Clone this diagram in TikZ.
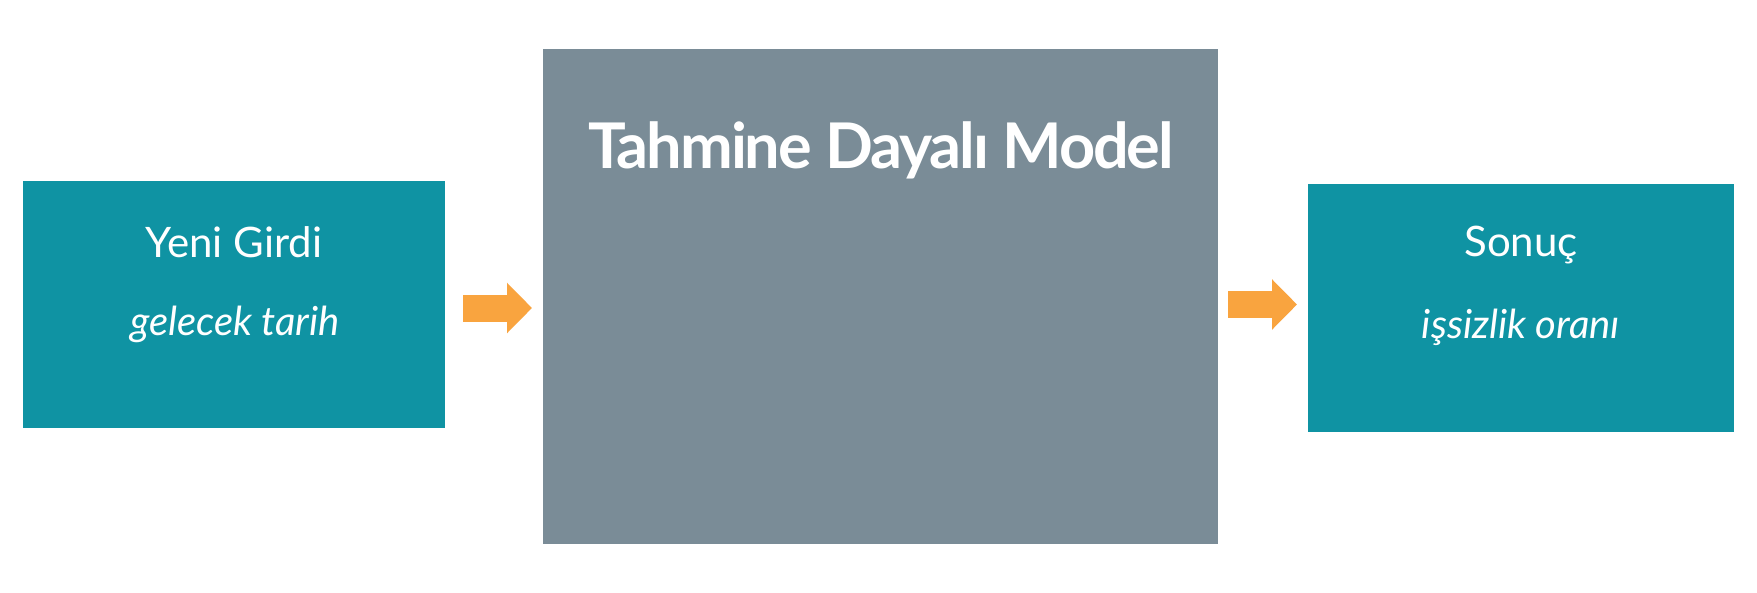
\documentclass[tikz,border=0pt]{standalone}
\usepackage{fontspec}
\setmainfont{Lato}
\usetikzlibrary{arrows.meta,calc}
\definecolor{tealbox}{HTML}{0F93A3}
\definecolor{graybox}{HTML}{7A8C97}
\definecolor{orangearr}{HTML}{F9A43F}
\tikzset{
  tealrect/.style={fill=tealbox, draw=none, minimum width=422pt, minimum height=247pt, inner sep=0pt, outer sep=0pt},
  grayrect/.style={fill=graybox, draw=none, minimum width=675pt, minimum height=495pt, inner sep=0pt, outer sep=0pt},
  maintxt/.style={text=white, font=\fontsize{42pt}{48pt}\selectfont, anchor=base, inner sep=0pt},
  subtxt/.style={text=white, font=\fontsize{40pt}{48pt}\selectfont\itshape, anchor=base, inner sep=0pt},
  titletxt/.style={text=white, font=\fontsize{63pt}{72pt}\selectfont\bfseries\addfontfeature{LetterSpace=-3.3}, anchor=base, inner sep=0pt},
  fatarrow/.style={draw=orangearr, line width=27pt, -{Triangle[length=25pt, width=49pt, fill=orangearr]}}
}
\begin{document}
\begin{tikzpicture}[x=1pt, y=-1pt]
  \fill[white] (0,0) rectangle (1757,592);
  \useasboundingbox (0,0) rectangle (1757,592);
  \node[tealrect] (L) at (234,304.5) {};
  \node[grayrect] (M) at (880.5,296.5) {};
  \node[tealrect, minimum width=426pt, minimum height=248pt] (R) at (1521,308) {};
  \node[maintxt] (l1) at (234,257) {Yeni Girdi};
  \node[subtxt] (l2) at (235,335) {gelecek tarih};
  \node[titletxt] (mt) at (881,168) {Tahmine Dayalı Model};
  \node[maintxt] (r1) at (1521,256) {Sonuç};
  \node[subtxt] (r2) at (1521,338) {işsizlik oranı};
  \coordinate (a1s) at ($(L.east)+(18,3.5)$);
  \coordinate (a1e) at ($(M.west |- a1s)+(-11,0)$);
  \coordinate (a2s) at ($(M.east |- R.west)+(10,-3.5)$);
  \coordinate (a2e) at ($(R.west |- a2s)+(-11,0)$);
  \draw[fatarrow] (a1s) -- (a1e);
  \draw[fatarrow] (a2s) -- (a2e);
\end{tikzpicture}
\end{document}
